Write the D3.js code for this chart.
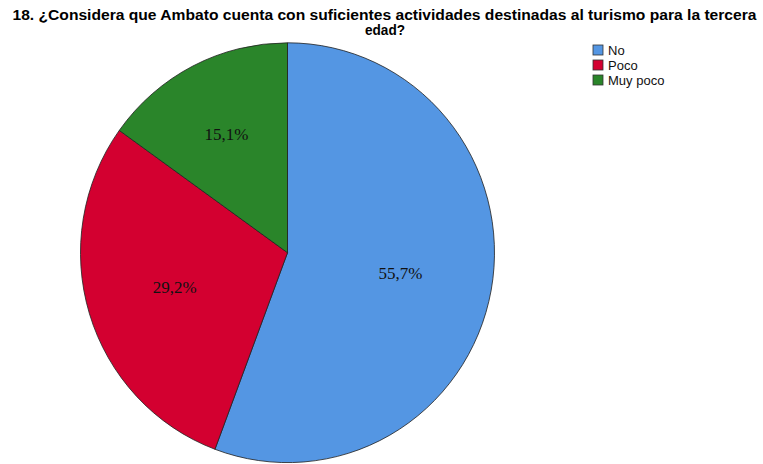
<!DOCTYPE html>
<html lang="es">
<head>
  <meta charset="utf-8"/>
  <title>Pregunta 18 – gráfico circular</title>
  <script src="https://cdn.jsdelivr.net/npm/d3@7/dist/d3.min.js"></script>
  <style>
    html, body { margin:0; padding:0; background:#fff; }
    svg { display:block; }
  </style>
</head>
<body>
  <svg width="763" height="464"></svg>
  <script>
  // datos
  const categories = ["No", "Poco", "Muy poco"];
  const values     = [55.7, 29.2, 15.1];
  const labels     = ["55,7%", "29,2%", "15,1%"];
  const colors     = ["#5496e3", "#d30030", "#2a852a"];
  const titleLines = [
    "18. ¿Considera que Ambato cuenta con suficientes actividades destinadas al turismo para la tercera",
    "edad?"
  ];

  const svg = d3.select("svg");

  // título (dos líneas, fuente algo condensada como en el original)
  svg.append("text")
    .attr("x", 384.5).attr("y", 19.5)
    .attr("text-anchor","middle")
    .attr("textLength", 744).attr("lengthAdjust","spacingAndGlyphs")
    .style("font", "bold 14px 'Liberation Sans', Arial, sans-serif")
    .text(titleLines[0]);
  svg.append("text")
    .attr("x", 385).attr("y", 35)
    .attr("text-anchor","middle")
    .attr("textLength", 40).attr("lengthAdjust","spacingAndGlyphs")
    .style("font", "bold 14px 'Liberation Sans', Arial, sans-serif")
    .text(titleLines[1]);

  // pastel
  const cx = 287.5, cy = 252.7, r = 207;
  const pie = d3.pie().sort(null).value(d => d);
  const arcs = pie(values);
  const arc = d3.arc().innerRadius(0).outerRadius(r);

  const g = svg.append("g")
    .attr("transform", `translate(${cx},${cy}) scale(1,1.014)`);
  g.selectAll("path")
    .data(arcs)
    .join("path")
      .attr("d", arc)
      .attr("fill", (d,i) => colors[i])
      .attr("stroke", "#222")
      .attr("stroke-width", 0.8);

  // etiquetas (radio relativo por sector)
  const labelR = [0.555, 0.57, 0.645];
  svg.append("g")
    .attr("transform", `translate(${cx},${cy})`)
    .selectAll("text")
    .data(arcs)
    .join("text")
      .attr("transform", (d,i) => {
        const c = d3.arc().innerRadius(r*labelR[i]).outerRadius(r*labelR[i]).centroid(d);
        return `translate(${c[0]},${c[1]})`;
      })
      .attr("text-anchor","middle")
      .attr("dy","0.35em")
      .style("font", "17px 'Liberation Serif', 'Times New Roman', serif")
      .attr("fill","#111")
      .text((d,i) => labels[i]);

  // leyenda
  const leg = svg.append("g").attr("transform","translate(593,45)");
  const item = leg.selectAll("g")
    .data(categories)
    .join("g")
      .attr("transform", (d,i) => `translate(0,${i*15})`);
  item.append("rect")
    .attr("width",10).attr("height",10)
    .attr("fill", (d,i) => colors[i])
    .attr("stroke","#333").attr("stroke-width",0.8);
  item.append("text")
    .attr("x",15).attr("y",5).attr("dy","0.35em")
    .style("font","13px 'Liberation Sans', Arial, sans-serif")
    .attr("fill","#111")
    .text(d => d);
  </script>
</body>
</html>
